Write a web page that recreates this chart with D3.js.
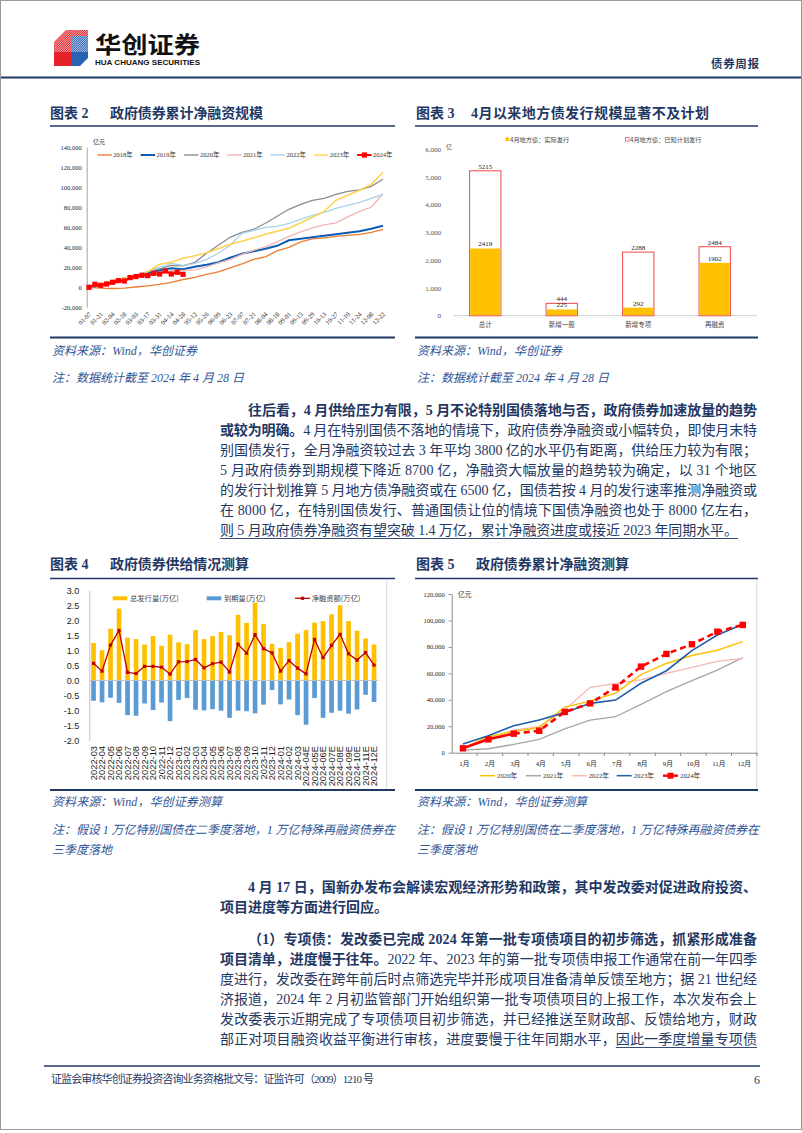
<!DOCTYPE html>
<html><head><meta charset="utf-8">
<script src="https://cdn.jsdelivr.net/npm/d3@7"></script>
<style>body{margin:0;background:#fff}svg{display:block}</style>
</head><body>
<svg id="page" width="802" height="1133"></svg>
<script>
// ---------------- DATA ----------------
// Chart 2: cumulative net financing (亿元), biweekly readings; 2024 weekly
const c1Ticks = ["01-07","01-21","02-04","02-18","03-03","03-17","03-31","04-14","04-28","05-12","05-26","06-09","06-23","07-07","07-21","08-04","08-18","09-01","09-15","09-29","10-13","10-27","11-10","11-24","12-08","12-22"];
const c1YTicks = [-20000,0,20000,40000,60000,80000,100000,120000,140000];
const c1Names = ["2018年","2019年","2020年","2021年","2022年","2023年","2024年"];
const c1_2018 = [0,-800,-1200,-800,300,1500,3000,5000,7800,10000,13000,15500,19500,23500,28000,30500,36500,40000,45500,48500,49500,51000,52000,53000,55000,58000];
const c1_2019 = [0,2000,4000,7000,10500,14500,17000,19000,18000,20500,22500,25000,29500,33500,36000,38500,41500,47000,48500,50000,51500,53000,54500,56000,58500,61500];
const c1_2020 = [0,3000,6000,9500,12500,15500,18500,22000,21500,25000,34000,42000,50000,55000,58000,64000,71000,78000,83000,87000,89000,93000,96000,97500,101000,108000];
const c1_2021 = [0,2500,5000,7500,10000,13000,15000,16500,17000,17500,20500,24500,28000,33000,37000,40500,45500,51000,55500,59500,62500,64500,70500,76000,80000,93500];
const c1_2022 = [0,3000,6000,9000,12000,16000,20000,24000,22000,24000,28000,34000,42000,54000,57000,60000,61000,64000,68000,72000,75000,79000,82000,85000,89000,93000];
const c1_2023 = [0,3300,6700,9000,11700,15700,23000,25000,29000,31500,34500,38500,43000,46000,49500,53000,56000,59000,64500,70000,76000,87000,92000,97000,103000,115000];
const c1_2024 = [0,3000,2000,3300,5000,6700,6300,9700,10700,12000,11700,14000,13300,16300,13300,15000,13000];

// Chart 3: April local government bonds (亿)
const c3Cats = ["总计","新增一般","新增专项","再融资"];
const c3Actual = [2419,225,292,1902];
const c3Plan = [5215,444,2288,2484];
const c3YTicks = [0,1000,2000,3000,4000,5000,6000];
const c3Legend = ["4月地方债：实际发行","4月地方债：已知计划发行"];

// Chart 4: supply (万亿)
const c4Months = ["2022-03","2022-04","2022-05","2022-06","2022-07","2022-08","2022-09","2022-10","2022-11","2022-12","2023-01","2023-02","2023-03","2023-04","2023-05","2023-06","2023-07","2023-08","2023-09","2023-10","2023-11","2023-12","2024-01","2024-02","2024-03","2024-04E","2024-05E","2024-06E","2024-07E","2024-08E","2024-09E","2024-10E","2024-11E","2024-12E"];
const c4Issue = [1.25,1.01,1.73,2.40,1.43,1.38,1.20,1.48,1.16,1.53,1.27,1.21,1.68,1.38,1.48,1.62,1.51,2.19,1.92,2.60,1.88,1.22,1.09,1.28,1.56,1.68,1.93,1.98,2.21,2.51,1.98,1.66,1.40,1.20];
const c4Mature = [-0.68,-0.73,-0.58,-0.75,-1.16,-1.18,-0.77,-0.99,-0.74,-1.36,-0.65,-0.59,-0.98,-1.00,-0.96,-1.01,-1.25,-1.01,-1.03,-1.10,-0.81,-0.32,-0.80,-0.64,-1.16,-1.48,-0.59,-1.25,-1.08,-1.01,-1.11,-0.97,-0.48,-0.72];
const c4Net = [0.57,0.31,1.18,1.67,0.27,0.23,0.47,0.47,0.44,0.21,0.62,0.63,0.70,0.42,0.56,0.61,0.28,1.21,0.91,1.53,1.06,0.92,0.31,0.66,0.41,0.22,1.37,0.76,1.17,1.54,0.89,0.68,0.93,0.51];
const c4YTicks = [-2,-1.5,-1,-0.5,0,0.5,1,1.5,2,2.5,3];
const c4Legend = ["总发行量(万亿)","到期量(万亿)","净融资额(万亿)"];

// Chart 5: cumulative net financing by month (亿元)
const c5Months = ["1月","2月","3月","4月","5月","6月","7月","8月","9月","10月","11月","12月"];
const c5YTicks = [0,20000,40000,60000,80000,100000,120000];
const c5Names = ["2020年","2021年","2022年","2023年","2024年"];
const c5_2020 = [3500,12000,16000,19000,34500,39000,45000,59000,67500,73500,77500,84000];
const c5_2021 = [2000,3000,6300,10000,18000,24700,27200,36600,46200,54500,62500,71900];
const c5_2022 = [3000,11000,17000,19700,32300,49400,52500,55000,60000,64600,69100,71400];
const c5_2023 = [6600,12900,20400,24700,30300,37300,39800,52500,62000,77200,89000,97100];
const c5_2024 = [3300,10100,14400,16600,30800,37300,49400,65100,74700,82000,91500,96600];

// Body text
const para1 = [
  [{t:"往后看，4 月供给压力有限，5 月不论特别国债落地与否，政府债券加速放量的趋势",b:1}],
  [{t:"或较为明确。",b:1},{t:"4 月在特别国债不落地的情境下，政府债券净融资或小幅转负，即使月末特"}],
  [{t:"别国债发行，全月净融资较过去 3 年平均 3800 亿的水平仍有距离，供给压力较为有限；"}],
  [{t:"5 月政府债券到期规模下降近 8700 亿，净融资大幅放量的趋势较为确定，以 31 个地区"}],
  [{t:"的发行计划推算 5 月地方债净融资或在 6500 亿，国债若按 4 月的发行速率推测净融资或"}],
  [{t:"在 8000 亿，在特别国债发行、普通国债让位的情境下国债净融资也处于 8000 亿左右，"}],
  [{t:"则 5 月政府债券净融资有望突破 1.4 万亿，累计净融资进度或接近 2023 年同期水平。",u:1}]
];
const para2 = [
  [{t:"4 月 17 日，国新办发布会解读宏观经济形势和政策，其中发改委对促进政府投资、",b:1}],
  [{t:"项目进度等方面进行回应。",b:1}]
];
const para3 = [
  [{t:"（1）专项债：发改委已完成 2024 年第一批专项债项目的初步筛选，抓紧形成准备",b:1}],
  [{t:"项目清单，进度慢于往年。",b:1},{t:"2022 年、2023 年的第一批专项债申报工作通常在前一年四季"}],
  [{t:"度进行，发改委在跨年前后时点筛选完毕并形成项目准备清单反馈至地方；据 21 世纪经"}],
  [{t:"济报道，2024 年 2 月初监管部门开始组织第一批专项债项目的上报工作，本次发布会上"}],
  [{t:"发改委表示近期完成了专项债项目初步筛选，并已经推送至财政部、反馈给地方，财政"}],
  [{t:"部正对项目融资收益平衡进行审核，进度要慢于往年同期水平，"},{t:"因此一季度增量专项债",u:1}]
];

// ---------------- STYLE ----------------
const NAVY = "#1f3864", BODY = "#1f3864", SRC = "#2f5597";
const SERIF = "'Liberation Serif','Noto Sans CJK SC',serif";
const SANS = "'Liberation Sans','Noto Sans CJK SC',sans-serif";
const CJK = "'Noto Sans CJK SC',sans-serif";
const fmtC = d => (d < 0 ? "-" : "") + d3.format(",")(Math.abs(d));
const fmt1 = d => (d < 0 ? "-" : "") + d3.format(".1f")(Math.abs(d));

const svg = d3.select("#page");
svg.append("rect").attr("x",0.5).attr("y",0.5).attr("width",801).attr("height",1129)
  .attr("fill","#fff").attr("stroke","#9a9a9a");

// ---------------- HEADER ----------------
const defs = svg.append("defs");
defs.append("clipPath").attr("id","lc").append("polygon").attr("points","54,42 66,30 88,30 88,58 80,66 54,66");
const logo = svg.append("g");
logo.append("polygon").attr("points","54,42 66,30 74,30 74,66 54,66").attr("fill","#e62129");
logo.append("polygon").attr("points","72,36 88,36 88,58 80,66 72,66").attr("fill","#2b63b4");
logo.append("polygon").attr("points","66,30 88,30 88,36 72,36").attr("fill","#e62129");
const st = logo.append("g").attr("clip-path","url(#lc)");
d3.range(0,24).forEach(k => {
  st.append("line").attr("x1",54 + k*2.2 - 14).attr("y1",52).attr("x2",54 + k*2.2 + 8).attr("y2",30)
    .attr("stroke","#fff").attr("stroke-width",0.7);
});
svg.append("text").attr("x",95).attr("y",53).attr("font-family",CJK).attr("font-weight",700)
  .attr("font-size",23).attr("textLength",105).attr("lengthAdjust","spacingAndGlyphs").attr("fill","#111").text("华创证券");
svg.append("text").attr("x",95).attr("y",65).attr("font-family","'Liberation Sans'").attr("font-weight",700)
  .attr("font-size",6.5).attr("textLength",105).attr("lengthAdjust","spacingAndGlyphs").attr("fill","#111").text("HUA CHUANG SECURITIES");
svg.append("text").attr("x",711).attr("y",67.5).attr("font-family",CJK).attr("font-weight",700)
  .attr("font-size",11.5).attr("textLength",48).attr("fill",NAVY).text("债券周报");
svg.append("line").attr("x1",1).attr("x2",801).attr("y1",77.5).attr("y2",77.5).attr("stroke",NAVY).attr("stroke-width",2);

// ---------------- TITLES / SOURCES ----------------
function figTitle(x, y, num, txt, gap, len) {
  svg.append("text").attr("x",x).attr("y",y).attr("font-family",SERIF).attr("font-weight",700)
    .attr("font-size",14).attr("fill",NAVY).text("图表 " + num);
  svg.append("text").attr("x",x + gap).attr("y",y).attr("font-family",SERIF).attr("font-weight",700)
    .attr("font-size",14).attr("fill",NAVY).attr("textLength",len).attr("lengthAdjust","spacing").text(txt);
}
function hline(x1, x2, y, w) {
  svg.append("line").attr("x1",x1).attr("x2",x2).attr("y1",y).attr("y2",y).attr("stroke",NAVY).attr("stroke-width",w);
}
function srcText(x, y, txt, len) {
  svg.append("text").attr("x",x).attr("y",y).attr("font-family",SERIF).attr("font-style","italic")
    .attr("font-size",12).attr("fill",SRC).attr("textLength",len).attr("lengthAdjust","spacing").text(txt);
}
figTitle(50,118,"2","政府债券累计净融资规模",60,153);
figTitle(416,118,"3","4月以来地方债发行规模显著不及计划",55,238);
hline(50,395,126,1.6); hline(415,758,126,1.6);
hline(50,395,337.5,2); hline(415,758,337.5,2);
srcText(52,354.5,"资料来源：Wind，华创证券",145);
srcText(52,381.5,"注：数据统计截至 2024 年 4 月 28 日",192);
srcText(417,354.5,"资料来源：Wind，华创证券",145);
srcText(417,381.5,"注：数据统计截至 2024 年 4 月 28 日",192);

figTitle(50,569,"4","政府债券供给情况测算",60,139);
figTitle(416,569,"5","政府债券累计净融资测算",60,153);
hline(50,395,578.5,1.6); hline(415,758,578.5,1.6);
hline(50,395,790,2); hline(415,758,790,2);
srcText(52,806,"资料来源：Wind，华创证券测算",170);
srcText(52,833.5,"注：假设 1 万亿特别国债在二季度落地，1 万亿特殊再融资债券在",343);
srcText(52,853.5,"三季度落地",60);
srcText(417,806,"资料来源：Wind，华创证券测算",170);
srcText(417,833.5,"注：假设 1 万亿特别国债在二季度落地，1 万亿特殊再融资债券在",342);
srcText(417,853.5,"三季度落地",60);

// ---------------- CHART 2 (cumulative weekly lines) ----------------
{
  const x = d3.scaleLinear().domain([0,50]).range([89,383]);
  const y = d3.scaleLinear().domain([-20000,140000]).range([307.3,147.3]);
  const g = svg.append("g");
  const ay = g.append("g").attr("transform","translate(86.7,0)")
    .call(d3.axisLeft(y).tickValues(c1YTicks).tickSize(0).tickSizeOuter(0).tickPadding(5).tickFormat(fmtC));
  ay.attr("font-family",SERIF).attr("font-size",6.5);
  ay.select(".domain").attr("stroke","#a6a6a6");
  ay.selectAll("text").attr("fill","#222");
  g.append("text").attr("x",93).attr("y",144).attr("font-family",CJK).attr("font-size",6).attr("fill","#333").text("亿元");
  g.selectAll(".xl").data(c1Ticks).join("text")
    .attr("transform",(d,i)=>`translate(${x(2*i)+1},313) rotate(-45)`)
    .attr("text-anchor","end").attr("dy","0.35em")
    .attr("font-family",SERIF).attr("font-size",6.5).attr("fill","#222").text(d=>d);
  const series = [
    {v:c1_2018,c:"#ed7d31",w:1.3},{v:c1_2019,c:"#0a5cb5",w:2},{v:c1_2020,c:"#8c8c8c",w:1.3},
    {v:c1_2021,c:"#f2b3b3",w:1.3},{v:c1_2022,c:"#a9d2ea",w:1.3},{v:c1_2023,c:"#ffd24d",w:1.5}
  ];
  const ln = d3.line().x((d,i)=>x(2*i)).y(d=>y(d));
  series.forEach(s => g.append("path").attr("d",ln(s.v)).attr("fill","none").attr("stroke",s.c).attr("stroke-width",s.w));
  const ln24 = d3.line().x((d,i)=>x(i)).y(d=>y(d));
  g.append("path").attr("d",ln24(c1_2024)).attr("fill","none").attr("stroke","#ff0000").attr("stroke-width",2);
  g.selectAll(".m24").data(c1_2024).join("rect")
    .attr("x",(d,i)=>x(i)-2.6).attr("y",d=>y(d)-2.6).attr("width",5.2).attr("height",5.2).attr("fill","#ff0000");
  const lc = ["#ed7d31","#0a5cb5","#8c8c8c","#f2b3b3","#a9d2ea","#ffd24d","#ff0000"];
  c1Names.forEach((n,i) => {
    const x0 = 97.3 + 43.3*i;
    g.append("line").attr("x1",x0).attr("x2",x0+14.5).attr("y1",155).attr("y2",155)
      .attr("stroke",lc[i]).attr("stroke-width",i===1||i===6?2:1.4);
    if (i===6) g.append("rect").attr("x",x0+4.7).attr("y",152.4).attr("width",5.2).attr("height",5.2).attr("fill","#ff0000");
    g.append("text").attr("x",x0+16).attr("y",157.3).attr("font-family",SERIF).attr("font-size",6.5).attr("fill","#333").text(n);
  });
}

// ---------------- CHART 3 (bars) ----------------
{
  const x = d3.scaleBand().domain(c3Cats).range([447,753]).paddingInner(0.59).paddingOuter(0.295);
  const y = d3.scaleLinear().domain([0,6000]).range([315.7,149]);
  const g = svg.append("g");
  const ay = g.append("g").attr("transform","translate(447,0)")
    .call(d3.axisLeft(y).tickValues(c3YTicks).tickSize(0).tickPadding(6).tickFormat(fmtC));
  ay.attr("font-family",SERIF).attr("font-size",7);
  ay.select(".domain").remove();
  ay.selectAll("text").attr("fill","#555");
  g.append("text").attr("x",446).attr("y",149).attr("font-family",CJK).attr("font-size",6).attr("fill","#555").text("亿");
  g.append("line").attr("x1",453).attr("x2",757).attr("y1",y(0)).attr("y2",y(0)).attr("stroke","#d0d0d0");
  g.selectAll(".pl").data(c3Plan).join("rect")
    .attr("x",(d,i)=>x(c3Cats[i])).attr("width",x.bandwidth())
    .attr("y",d=>y(d)).attr("height",d=>y(0)-y(d))
    .attr("fill","#fff").attr("stroke","#f05a5a").attr("stroke-width",1.1);
  g.selectAll(".ac").data(c3Actual).join("rect")
    .attr("x",(d,i)=>x(c3Cats[i])+0.6).attr("width",x.bandwidth()-1.2)
    .attr("y",d=>y(d)).attr("height",d=>y(0)-y(d)-0.5).attr("fill","#ffc000");
  const lab = (arr) => g.selectAll(null).data(arr).join("text")
    .attr("x",(d,i)=>x(c3Cats[i])+x.bandwidth()/2).attr("y",d=>y(d)-2)
    .attr("text-anchor","middle").attr("font-family",SERIF).attr("font-size",7).attr("fill","#222").text(d=>d);
  lab(c3Plan); lab(c3Actual);
  g.selectAll(".cl").data(c3Cats).join("text")
    .attr("x",d=>x(d)+x.bandwidth()/2).attr("y",326.5).attr("text-anchor","middle")
    .attr("font-family",CJK).attr("font-size",6.5).attr("fill","#444").text(d=>d);
  g.append("rect").attr("x",505.5).attr("y",137.5).attr("width",3.6).attr("height",3.6).attr("fill","#ffc000");
  g.append("text").attr("x",510).attr("y",141.6).attr("font-family",CJK).attr("font-size",6.2).attr("fill","#444").text(c3Legend[0]);
  g.append("rect").attr("x",625.5).attr("y",137.5).attr("width",3.6).attr("height",3.6).attr("fill","#fff").attr("stroke","#f05a5a").attr("stroke-width",0.8);
  g.append("text").attr("x",630).attr("y",141.6).attr("font-family",CJK).attr("font-size",6.2).attr("fill","#444").text(c3Legend[1]);
}

// ---------------- CHART 4 (supply bars + net line) ----------------
{
  const x = d3.scaleBand().domain(c4Months).range([89.3,378.3]).paddingInner(0.45).paddingOuter(0.225);
  const y = d3.scaleLinear().domain([-2,3]).range([740.3,590.6]);
  const g = svg.append("g");
  g.append("line").attr("x1",386.7).attr("x2",386.7).attr("y1",580).attr("y2",789).attr("stroke","#d9d9d9");
  const ay = g.append("g").attr("transform","translate(89.3,0)")
    .call(d3.axisLeft(y).tickValues(c4YTicks).tickSize(0).tickSizeOuter(0).tickPadding(10).tickFormat(fmt1));
  ay.attr("font-family",SANS).attr("font-size",9);
  ay.select(".domain").attr("stroke","#bfbfbf");
  ay.selectAll("text").attr("fill","#222");
  g.selectAll(".iss").data(c4Issue).join("rect")
    .attr("x",(d,i)=>x(c4Months[i])).attr("width",x.bandwidth())
    .attr("y",d=>y(d)).attr("height",d=>y(0)-y(d)).attr("fill","#ffc000");
  g.selectAll(".mat").data(c4Mature).join("rect")
    .attr("x",(d,i)=>x(c4Months[i])).attr("width",x.bandwidth())
    .attr("y",y(0)).attr("height",d=>y(d)-y(0)).attr("fill","#5b9bd5");
  g.append("line").attr("x1",89.3).attr("x2",378.3).attr("y1",y(0)).attr("y2",y(0)).attr("stroke","#bfbfbf");
  const cx = (i) => x(c4Months[i]) + x.bandwidth()/2;
  g.append("path").attr("d",d3.line().x((d,i)=>cx(i)).y(d=>y(d))(c4Net))
    .attr("fill","none").attr("stroke","#c00000").attr("stroke-width",1.3);
  g.selectAll(".nm").data(c4Net).join("rect")
    .attr("x",(d,i)=>cx(i)-1.6).attr("y",d=>y(d)-1.6).attr("width",3.2).attr("height",3.2).attr("fill","#c00000");
  g.selectAll(".xl").data(c4Months).join("text")
    .attr("transform",(d,i)=>`translate(${cx(i)},746) rotate(-90)`)
    .attr("text-anchor","end").attr("dy","0.35em")
    .attr("font-family",SANS).attr("font-size",9.3).attr("fill","#222").text(d=>d);
  g.append("rect").attr("x",112.7).attr("y",596.3).attr("width",14.6).attr("height",4).attr("fill","#ffc000");
  g.append("text").attr("x",130).attr("y",601).attr("font-family",CJK).attr("font-size",7.3).attr("fill","#444").text(c4Legend[0]);
  g.append("rect").attr("x",206.7).attr("y",596.3).attr("width",14.6).attr("height",4).attr("fill","#5b9bd5");
  g.append("text").attr("x",224).attr("y",601).attr("font-family",CJK).attr("font-size",7.3).attr("fill","#444").text(c4Legend[1]);
  g.append("line").attr("x1",295).attr("x2",310).attr("y1",598.3).attr("y2",598.3).attr("stroke","#c00000").attr("stroke-width",1.3);
  g.append("rect").attr("x",300.9).attr("y",596.7).attr("width",3.2).attr("height",3.2).attr("fill","#c00000");
  g.append("text").attr("x",311.7).attr("y",601).attr("font-family",CJK).attr("font-size",7.3).attr("fill","#444").text(c4Legend[2]);
}

// ---------------- CHART 5 (monthly cumulative lines) ----------------
{
  const xb = d3.scaleBand().domain(c5Months).range([451.7,757]);
  const cx = d => xb(d) + xb.bandwidth()/2 - 1.5;
  const y = d3.scaleLinear().domain([0,120000]).range([752.7,594]);
  const g = svg.append("g");
  g.append("line").attr("x1",756.7).attr("x2",756.7).attr("y1",580).attr("y2",789).attr("stroke","#d9d9d9");
  const ay = g.append("g").attr("transform","translate(451.7,0)")
    .call(d3.axisLeft(y).tickValues(c5YTicks).tickSize(3).tickSizeOuter(0).tickPadding(4).tickFormat(fmtC));
  ay.attr("font-family",SERIF).attr("font-size",6.5);
  ay.select(".domain").attr("stroke","#8c8c8c");
  ay.selectAll("line").attr("stroke","#8c8c8c");
  ay.selectAll("text").attr("fill","#222");
  const ax = g.append("g").attr("transform","translate(0,752.7)")
    .call(d3.axisBottom(xb).tickSize(0).tickSizeOuter(0).tickPadding(8));
  ax.attr("font-family",SERIF).attr("font-size",6.8);
  ax.select(".domain").attr("stroke","#8c8c8c");
  ax.selectAll("text").attr("fill","#222");
  g.selectAll(".tk").data(c5Months).join("line")
    .attr("x1",d=>xb(d)+xb.bandwidth()).attr("x2",d=>xb(d)+xb.bandwidth())
    .attr("y1",752.7).attr("y2",756).attr("stroke","#8c8c8c");
  g.append("text").attr("x",458).attr("y",596.5).attr("font-family",CJK).attr("font-size",6.8).attr("fill","#333").text("亿元");
  const ln = d3.line().x((d,i)=>cx(c5Months[i])).y(d=>y(d));
  const ser = [{v:c5_2021,c:"#a6a6a6",w:1.3},{v:c5_2022,c:"#f4b6b6",w:1.3},{v:c5_2020,c:"#ffc000",w:1.5},{v:c5_2023,c:"#1f5fa8",w:1.6}];
  ser.forEach(s => g.append("path").attr("d",ln(s.v)).attr("fill","none").attr("stroke",s.c).attr("stroke-width",s.w));
  const solid = c5_2024.slice(0,3);
  g.append("path").attr("d",ln(solid)).attr("fill","none").attr("stroke","#ff0000").attr("stroke-width",2.6);
  const lnD = d3.line().x((d,i)=>cx(c5Months[i+2])).y(d=>y(d));
  g.append("path").attr("d",lnD(c5_2024.slice(2))).attr("fill","none").attr("stroke","#ff0000")
    .attr("stroke-width",2.6).attr("stroke-dasharray","6,4");
  g.selectAll(".m").data(c5_2024).join("rect")
    .attr("x",(d,i)=>cx(c5Months[i])-3.2).attr("y",d=>y(d)-3.2).attr("width",6.4).attr("height",6.4).attr("fill","#ff0000");
  const lcol = ["#ffc000","#a6a6a6","#f4b6b6","#1f5fa8","#ff0000"];
  const lx = [480,526,571.7,616.7,663];
  c5Names.forEach((n,i) => {
    g.append("line").attr("x1",lx[i]).attr("x2",lx[i]+15).attr("y1",775.7).attr("y2",775.7)
      .attr("stroke",lcol[i]).attr("stroke-width",i===4?2.4:1.5);
    if (i===4) g.append("rect").attr("x",lx[i]+4.5).attr("y",772.7).attr("width",6).attr("height",6).attr("fill","#ff0000");
    g.append("text").attr("x",lx[i]+17).attr("y",778.2).attr("font-family",SERIF).attr("font-size",6.8).attr("fill","#333").text(n);
  });
}

// ---------------- BODY TEXT ----------------
function bodyLine(x, y, segs, len) {
  const t = svg.append("text").attr("x",x).attr("y",y)
    .attr("font-family",SERIF).attr("font-size",14).attr("fill",BODY);
  segs.forEach(s => t.append("tspan").attr("font-weight", s.b ? 700 : 400).text(s.t));
  if (len) t.attr("textLength",len).attr("lengthAdjust","spacing");
  const node = t.node();
  let off = 0;
  segs.forEach(s => {
    if (s.u) {
      const a = node.getStartPositionOfChar(off).x;
      const b = node.getEndPositionOfChar(off + s.t.length - 1).x;
      svg.append("line").attr("x1",a).attr("x2",b).attr("y1",y+3.5).attr("y2",y+3.5)
        .attr("stroke",BODY).attr("stroke-width",0.9);
    }
    off += s.t.length;
  });
}
const L = 220, R = 757, IND = 248;
const p1y = [415,435,455,475,495,515,535];
para1.forEach((segs,i) => {
  const x0 = i === 0 ? IND : L;
  bodyLine(x0, p1y[i], segs, i === 6 ? 518 : R - x0);
});
const p2y = [892,912];
para2.forEach((segs,i) => bodyLine(i===0?IND:L, p2y[i], segs, i===0 ? R-IND : null));
const p3y = [944,964,984,1004,1024,1044];
para3.forEach((segs,i) => bodyLine(i===0?IND:L, p3y[i], segs, R-(i===0?IND:L)));

// ---------------- FOOTER ----------------
svg.append("line").attr("x1",44).attr("x2",760).attr("y1",1066).attr("y2",1066).attr("stroke",NAVY).attr("stroke-width",1.6);
svg.append("text").attr("x",51).attr("y",1083).attr("font-family",SERIF).attr("font-size",11)
  .attr("fill",NAVY).attr("textLength",323).attr("lengthAdjust","spacing")
  .text("证监会审核华创证券投资咨询业务资格批文号：证监许可（2009）1210 号");
svg.append("text").attr("x",754).attr("y",1084).attr("font-family",SERIF).attr("font-size",12).attr("fill",NAVY).text("6");
</script>
</body></html>
